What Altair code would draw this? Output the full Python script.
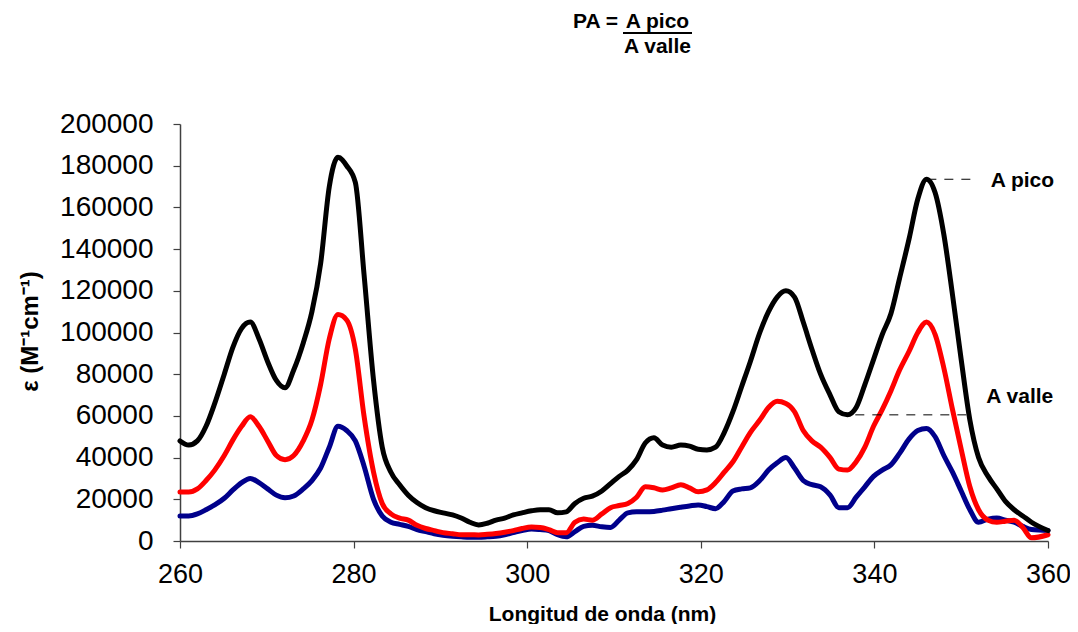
import altair as alt
import pandas as pd

wavelength = [260.0, 261.0, 262.0, 263.0, 264.0, 265.1, 266.1, 267.1, 268.1, 269.1,
              270.1, 271.1, 272.1, 273.1, 274.2, 275.2, 276.2, 277.2, 278.2, 279.2,
              280.2, 281.2, 282.3, 283.3, 284.3, 285.3, 286.3, 287.3, 288.3, 289.3,
              290.3, 291.4, 292.4, 293.4, 294.4, 295.4, 296.4, 297.4, 298.4, 299.4,
              300.5, 301.5, 302.5, 303.5, 304.5, 305.5, 306.5, 307.5, 308.6, 309.6,
              310.6, 311.6, 312.6, 313.6, 314.6, 315.6, 316.6, 317.7, 318.7, 319.7,
              320.7, 321.7, 322.7, 323.7, 324.7, 325.7, 326.8, 327.8, 328.8, 329.8,
              330.8, 331.8, 332.8, 333.8, 334.9, 335.9, 336.9, 337.9, 338.9, 339.9,
              340.9, 341.9, 342.9, 344.0, 345.0, 346.0, 347.0, 348.0, 349.0, 350.0,
              351.0, 352.0, 353.1, 354.1, 355.1, 356.1, 357.1, 358.1, 360.0]

black = [48, 46, 48, 55, 66, 80, 93, 102, 105, 97,
         86, 77, 73.5, 82, 95, 110, 133, 170, 184, 180,
         172, 128, 77, 45, 33, 27, 22, 18.5, 16, 14.5,
         13.5, 12.5, 11, 9, 7.7, 8.5, 10, 11, 12.5, 13.5,
         14.5, 15, 15, 13.5, 14, 18, 20.5, 21.5, 24, 27.5,
         31, 34, 39, 47, 49.5, 46, 45, 46, 45.5, 44,
         43.7, 45, 52, 62, 74, 86, 100, 110, 117, 120,
         117, 105, 92, 80, 70, 62, 60.5, 64, 75, 87,
         99, 109, 126, 145, 164, 173.5, 167, 147, 118, 87,
         58, 40, 31, 25, 19, 15, 12, 9, 5]

red = [23.5, 23.5, 25, 29, 34, 41, 48.5, 55, 59.6, 55,
       48, 41, 39, 41, 48, 58, 75, 97, 108.6, 106,
       92, 60, 33, 18, 13, 11, 10, 7.5, 6, 5,
       4, 3.5, 3, 3, 2.9, 3.2, 3.6, 4.2, 5, 6,
       6.7, 6.5, 5.5, 4, 4, 9, 10.5, 10, 13, 16,
       17, 18, 21, 26, 25.5, 24.5, 25.5, 27, 25.5, 23.6,
       24.5, 28, 33, 38, 45, 52, 58, 64, 67, 66,
       62, 53, 48, 45, 40, 34.5, 34, 38, 45, 55,
       63, 72, 82, 91, 100, 105, 99, 83, 63, 44,
       26, 15, 10, 9, 9.5, 10, 6.5, 1.5, 3]

navy = [12, 12, 13, 15, 17.3, 20.5, 24.5, 28, 30, 28,
        25, 22, 20.7, 21.6, 25, 29, 35, 45, 55, 53,
        48, 36, 20, 12, 9, 8, 7, 5.5, 4.5, 3.5,
        2.8, 2.3, 2, 1.8, 1.8, 2, 2.3, 3, 4, 5,
        5.8, 5.5, 5, 3, 2, 4.5, 7, 7.5, 6.8, 6.5,
        10, 13.5, 14, 14, 14.2, 14.8, 15.5, 16.2, 16.8, 17.3,
        16.5, 15.5, 19, 24, 25, 25.5, 29, 34, 37.5, 40,
        35, 29, 27, 26, 22, 16, 16, 21, 26, 31,
        34, 36.5, 42, 49, 53, 54, 50, 41, 33, 24,
        15, 9, 10.5, 11, 10, 9, 7, 5.5, 5]

x_ticks = [260, 280, 300, 320, 340, 360]
y_ticks = list(range(0, 200001, 20000))

pico_x = [346.1, 351.8]
pico_y = 173500
valle_x = [337.8, 350.8]
valle_y = 60500
pico_label = (353.4, 172600, "A pico")
valle_label = (352.9, 69000, "A valle")

FONT = "Liberation Sans"
W, H = 868, 417

def series_df(vals):
    return pd.DataFrame({"x": wavelength, "y": [v * 1000 for v in vals]})

xscale = alt.Scale(domain=[260, 360], nice=False, zero=False)
yscale = alt.Scale(domain=[0, 200000], nice=False)

xaxis = alt.Axis(values=x_ticks, title="Longitud de onda (nm)", grid=False,
                 labelFontSize=27, labelFont=FONT, labelColor="#000",
                 tickSize=7, tickColor="#404040", domainColor="#404040",
                 domainWidth=1.5, tickWidth=1.2, labelPadding=13,
                 titleFont=FONT, titleFontSize=21, titleFontWeight="bold",
                 titleColor="#000", titleX=422, titleY=79,
                 titleAnchor="middle", titleAlign="center",
                 titleBaseline="alphabetic", labelFlush=False)
yaxis = alt.Axis(values=y_ticks, title="ε (M⁻¹cm⁻¹)", grid=False,
                 labelFontSize=28, labelFont=FONT, labelColor="#000",
                 tickSize=7, tickColor="#404040", domainColor="#404040",
                 domainWidth=1.5, tickWidth=1.2, labelPadding=20,
                 titleFont=FONT, titleFontSize=24, titleFontWeight="bold",
                 titleColor="#000", titleX=-150, titleY=207, titleAngle=270,
                 titleAlign="center", titleBaseline="middle", labelFlush=False,
                 format="d")

X = alt.X("x:Q", scale=xscale, axis=xaxis)
Y = alt.Y("y:Q", scale=yscale, axis=yaxis)

def line(vals, color):
    return alt.Chart(series_df(vals)).mark_line(
        color=color, strokeWidth=5, interpolate="monotone",
        strokeCap="round", strokeJoin="round"
    ).encode(x=X, y=Y)

l_navy = line(navy, "#00008B")
l_red = line(red, "#FF0000")
l_black = line(black, "#000000")

dash_df = pd.DataFrame({
    "x": [pico_x[0], valle_x[0]], "x2": [pico_x[1], valle_x[1]],
    "y": [pico_y, valle_y]})
dashes = alt.Chart(dash_df).mark_rule(
    color="#000", strokeWidth=1, strokeDash=[9, 8]
).encode(x=X, x2="x2:Q", y=Y)

lab_df = pd.DataFrame({
    "x": [pico_label[0], valle_label[0]],
    "y": [pico_label[1], valle_label[1]],
    "t": [pico_label[2], valle_label[2]]})
labels = alt.Chart(lab_df).mark_text(
    font=FONT, fontSize=21, fontWeight="bold", align="left",
    baseline="middle", color="#000"
).encode(x=X, y=Y, text="t:N")

title_df = pd.DataFrame({"t": ["PA =", "A pico", "A valle"],
                         "px": [438, 477.5, 477.5],
                         "py": [-96, -96, -71]})
t1 = alt.Chart(title_df.iloc[[0]]).mark_text(
    font=FONT, fontSize=21, fontWeight="bold", align="right",
    baseline="alphabetic", color="#000"
).encode(x=alt.value(438), y=alt.value(-96), text="t:N")
t2 = alt.Chart(title_df.iloc[[1, 2]]).mark_text(
    font=FONT, fontSize=21, fontWeight="bold", align="center",
    baseline="alphabetic", color="#000"
).encode(x=alt.X("px:Q", scale=None), y=alt.Y("py:Q", scale=None), text="t:N")
underline = alt.Chart(title_df.iloc[[1]]).mark_rule(
    color="#000", strokeWidth=2
).encode(x=alt.value(443), x2=alt.value(512), y=alt.value(-91))

chart = alt.layer(l_navy, l_red, l_black, dashes, labels, t1, t2, underline).properties(
    width=W, height=H,
    autosize=alt.AutoSizeParams(type="none"),
    padding={"left": 172, "top": 116, "right": 22, "bottom": 83},
).configure(background="white", view=alt.ViewConfig(stroke=None, strokeWidth=0))

chart.save("out.html", embed_options={"renderer": "svg", "actions": False})
